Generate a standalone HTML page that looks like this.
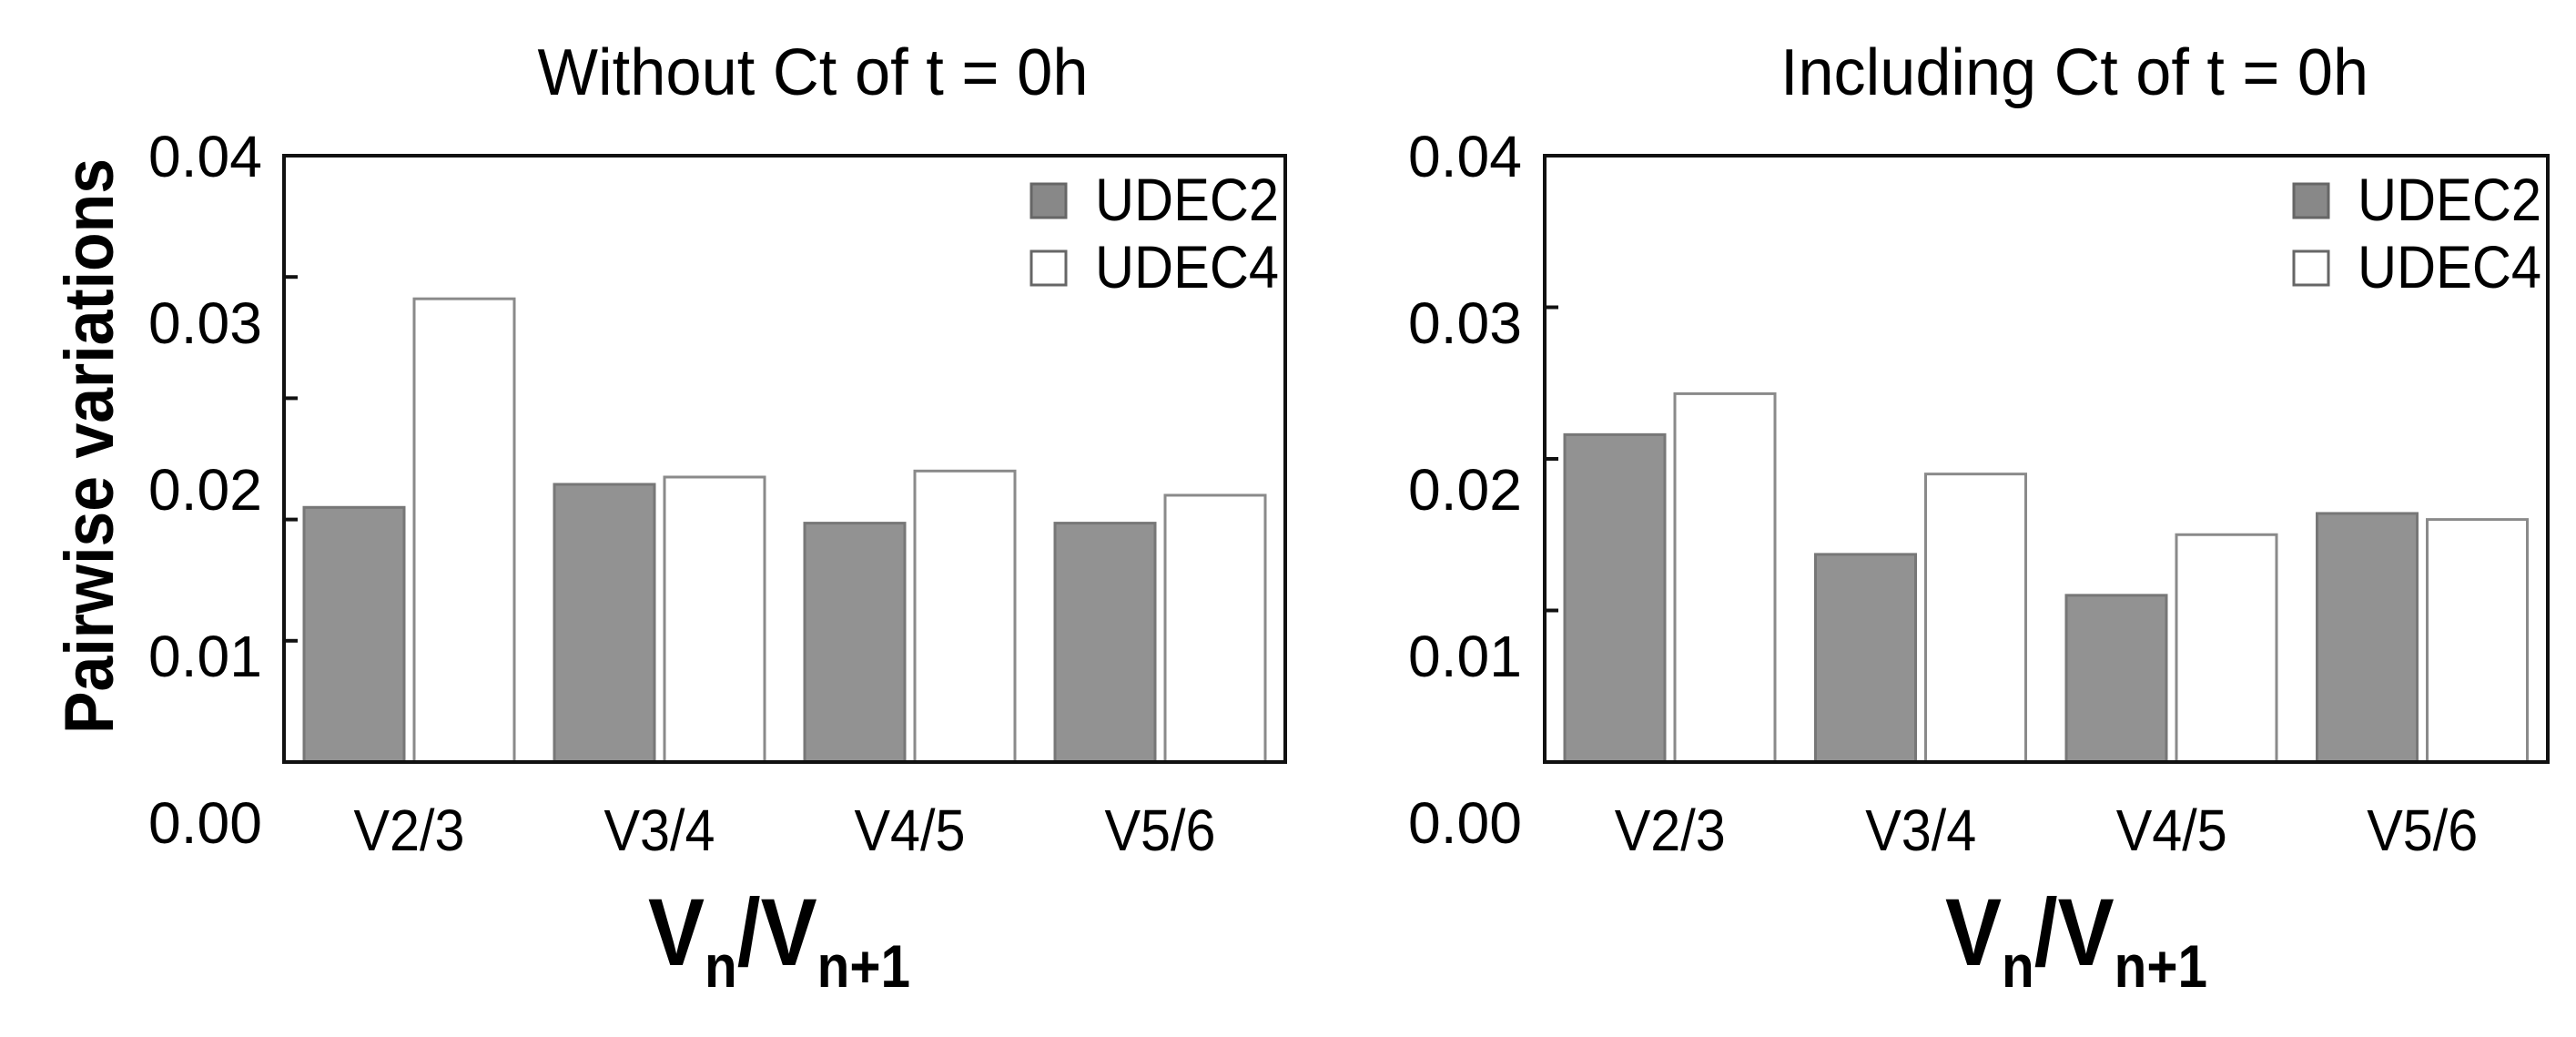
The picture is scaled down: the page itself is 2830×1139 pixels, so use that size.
<!DOCTYPE html>
<html><head><meta charset="utf-8"><style>
html,body{margin:0;padding:0;background:#fff;}
svg{display:block;}
text{font-family:"Liberation Sans",sans-serif;fill:#000;}
</style></head><body>
<svg id="chart" width="2830" height="1139" viewBox="0 0 2830 1139" xmlns="http://www.w3.org/2000/svg"></svg>
<script>
const categories = ["V2/3","V3/4","V4/5","V5/6"];
const seriesNames = ["UDEC2","UDEC4"];
const leftUdec2 = [0.0210,0.0229,0.0197,0.0197];
const leftUdec4 = [0.0382,0.0235,0.0240,0.0220];
const rightUdec2 = [0.0216,0.0137,0.0110,0.0164];
const rightUdec4 = [0.0243,0.0190,0.0150,0.0160];
const tickLabels = ["0.00","0.01","0.02","0.03","0.04"];
const leftTicks = [0.01,0.02,0.03,0.04];
const rightTicks = [0.01,0.02,0.03];

const NS="http://www.w3.org/2000/svg";
const svg=document.getElementById('chart');
function mk(tag,attrs,parent){const e=document.createElementNS(NS,tag);for(const k in attrs)e.setAttribute(k,attrs[k]);(parent||svg).appendChild(e);return e;}

function panel(opt){
  const g=mk('g',{});
  
  
  const L=opt.left,R=opt.right,T=171,B=837;
  const y=v=>B-v/opt.max*(B-T);
  const bw=(R-L)/categories.length;
  const t=mk('text',{x:(L+R)/2+opt.titleShift,y:104,'font-size':72,'text-anchor':'middle',textLength:opt.titleLen,lengthAdjust:'spacingAndGlyphs'},g);
  t.textContent=opt.title;
  
  
  [opt.s1,opt.s2].forEach((arr,si)=>{
    arr.forEach((v,i)=>{
      const x=L+i*bw+22+si*121;
      const r=mk('rect',{x:x,y:y(v),width:110,height:B-y(v),fill:si?'#fff':'#929292',stroke:si?'#8a8a8a':'#777','stroke-width':3},g);
      
      
    });
  });
  const f=mk('rect',{x:L,y:T,width:R-L,height:B-T,fill:'none',stroke:'#111','stroke-width':4},g);
  
  
  opt.ticks.forEach(v=>{
    const tk=mk('line',{x1:L,x2:L+15,y1:y(v),y2:y(v),stroke:'#111','stroke-width':4},g);
    
    
  });
  tickLabels.forEach((s,i)=>{
    const lt=mk('text',{x:opt.labelRight,y:926-i*183,'font-size':64,'text-anchor':'end',textLength:125,lengthAdjust:'spacingAndGlyphs'},g);
    lt.textContent=s;
    
    
  });
  categories.forEach((c,i)=>{
    const xt=mk('text',{x:L+i*bw+bw/2,y:934,'font-size':64,'text-anchor':'middle',textLength:122,lengthAdjust:'spacingAndGlyphs'},g);
    xt.textContent=c;
    
    
  });
  seriesNames.forEach((n,i)=>{
    const r=mk('rect',{x:R-279,y:202+i*74,width:38,height:37,fill:i?'#fff':'#888',stroke:'#666','stroke-width':3},g);
    
    
    const lt=mk('text',{x:R-209,y:242+i*74,'font-size':66,textLength:202,lengthAdjust:'spacingAndGlyphs'},g);
    lt.textContent=n;
    
    
  });
  const xt=mk('text',{x:opt.xTitleX,y:1060,'font-size':105,'font-weight':'bold',textLength:288,lengthAdjust:'spacingAndGlyphs'},g);
  
  
  const parts=[['V',105,0],['n',66,24],['/V',105,-24],['n+1',66,24]];
  parts.forEach(p=>{const ts=mk('tspan',{'font-size':p[1],dy:p[2]},xt);ts.textContent=p[0];});
}

panel({name:'left-panel',left:312,right:1412,max:0.05,s1:leftUdec2,s2:leftUdec4,ticks:leftTicks,
  title:'Without Ct of t = 0h',titleLen:605,titleShift:31,labelRight:288,xTitleX:712});
panel({name:'right-panel',left:1697,right:2799,max:0.04,s1:rightUdec2,s2:rightUdec4,ticks:rightTicks,
  title:'Including Ct of t = 0h',titleLen:646,titleShift:31,labelRight:1672,xTitleX:2137});

const yt=mk('text',{x:0,y:0,'font-size':76,'font-weight':'bold','text-anchor':'middle',textLength:632,lengthAdjust:'spacingAndGlyphs',transform:'translate(124,490) rotate(-90)'});
yt.textContent='Pairwise variations';


</script>
</body></html>
